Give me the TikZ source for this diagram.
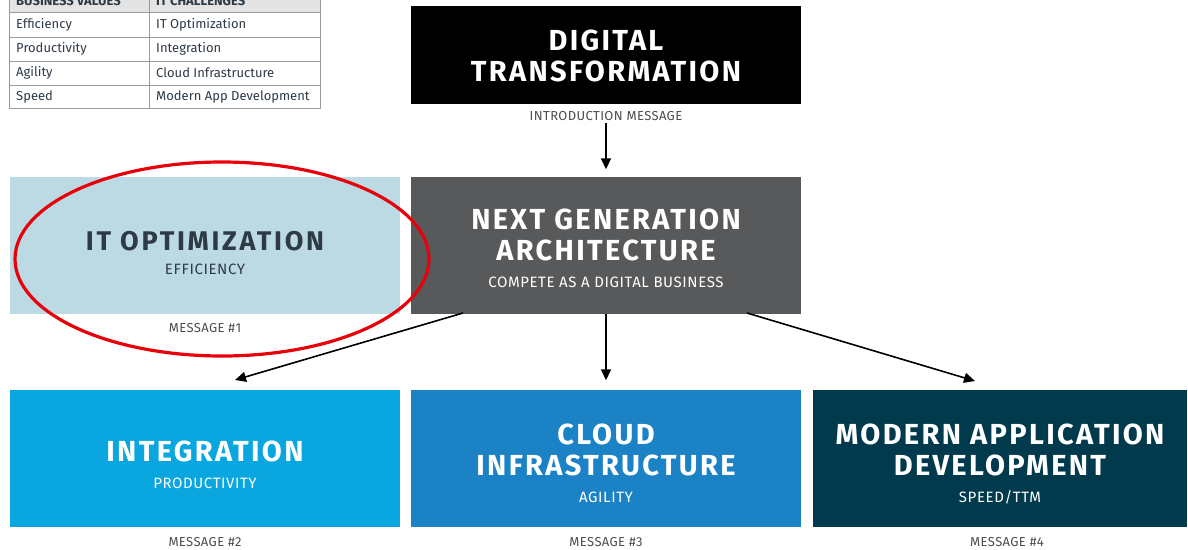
\documentclass[tikz,border=0pt]{standalone}
\usepackage{fontspec}
\setmainfont{Fira Sans}
\usepackage{tikz}
\usetikzlibrary{arrows.meta}

\definecolor{ngagray}{HTML}{58595B}
\definecolor{optblue}{HTML}{BCDAE4}
\definecolor{optink}{HTML}{2E3A46}
\definecolor{intblue}{HTML}{0AA6DF}
\definecolor{cldblue}{HTML}{1B82C6}
\definecolor{moddark}{HTML}{013A4D}
\definecolor{msgink}{HTML}{4D4D4D}
\definecolor{tabline}{HTML}{9A9A9A}
\definecolor{tabhead}{HTML}{E4E4E4}
\definecolor{ringred}{HTML}{E8000B}

\newcommand{\subt}[1]{{\mdseries\fontsize{15}{17}\selectfont\addfontfeatures{LetterSpace=4}#1}}
\newcommand{\lift}[1]{\rule{0pt}{#1}}

\begin{document}
\begin{tikzpicture}[x=1pt,y=-1pt,
    box/.style={minimum width=390pt, minimum height=137pt, inner sep=0pt, align=center,
        text=white, font=\bfseries\fontsize{29}{31}\selectfont\addfontfeatures{LetterSpace=8}},
    msg/.style={text=msgink, font=\fontsize{13}{15}\selectfont\addfontfeatures{LetterSpace=3}, inner sep=2pt},
    cell/.style={anchor=west, text=optink, font=\fontsize{13}{15}\selectfont, inner sep=0pt},
    arr/.style={-{Triangle[length=11pt,width=10pt]}, line width=1.6pt}]
    \clip (0,0) rectangle (1188,549);
    \fill[white] (0,0) rectangle (1188,549);

    % table of values
    \draw[tabline, fill=tabhead] (9,-15) rectangle (320,12);
    \draw[tabline, fill=white] (9,12) rectangle (320,108);
    \draw[tabline] (9,37) -- (320,37);
    \draw[tabline] (9,61) -- (320,61);
    \draw[tabline] (9,85) -- (320,85);
    \draw[tabline] (149,-15) -- (149,108);
    \node[cell, font=\bfseries\fontsize{13}{15}\selectfont] at(16,1)(h1){BUSINESS VALUES};
    \node[cell, font=\bfseries\fontsize{13}{15}\selectfont] at(156,1)(h2){IT CHALLENGES};
    \node[cell] at(16,25)(v1){Efficiency};
    \node[cell] at(156,25)(c1){IT Optimization};
    \node[cell] at(16,49)(v2){Productivity};
    \node[cell] at(156,49)(c2){Integration};
    \node[cell] at(16,73)(v3){Agility};
    \node[cell] at(156,73)(c3){Cloud Infrastructure};
    \node[cell] at(16,97)(v4){Speed};
    \node[cell] at(156,97)(c4){Modern App Development};

    % top row
    \node[box, fill=black, minimum height=98pt] at(606,55)(dt){\lift{22pt}DIGITAL\\TRANSFORMATION};
    \node[msg] at(606,116)(intro){INTRODUCTION MESSAGE};

    % middle row
    \node[box, fill=optblue, text=optink, font=\bfseries\fontsize{27}{29}\selectfont\addfontfeatures{LetterSpace=10}]
        at(205,245)(opt){\lift{35pt}IT OPTIMIZATION\\[-5pt]\subt{EFFICIENCY}};
    \node[msg] at(205,328)(m1){MESSAGE \#1};
    \node[box, fill=ngagray] at(606,245)(nga){\lift{28pt}NEXT GENERATION\\ARCHITECTURE\\[-4pt]\subt{COMPETE AS A DIGITAL BUSINESS}};

    % bottom row
    \node[box, fill=intblue] at(205,458)(integ){\lift{34pt}INTEGRATION\\[-4pt]\subt{PRODUCTIVITY}};
    \node[box, fill=cldblue] at(606,458)(cloud){\lift{32pt}CLOUD\\INFRASTRUCTURE\\[-4pt]\subt{AGILITY}};
    \node[box, fill=moddark, minimum width=374pt] at(1000,458)(modern){\lift{32pt}MODERN APPLICATION\\DEVELOPMENT\\[-4pt]\subt{SPEED/TTM}};
    \node[msg] at(205,542)(m2){MESSAGE \#2};
    \node[msg] at(606,542)(m3){MESSAGE \#3};
    \node[msg] at(1007,542)(m4){MESSAGE \#4};

    % arrows
    \coordinate (ls) at(463,313);
    \coordinate (le) at(235,380);
    \coordinate (rs) at(747,313);
    \coordinate (re) at(975,381);
    \draw[arr, shorten >=7pt] (intro) -- (nga);
    \draw[arr, shorten >=9pt] (nga) -- (cloud);
    \draw[arr] (ls) -- (le);
    \draw[arr] (rs) -- (re);

    % highlight
    \draw[ringred, line width=3.2pt] (222,259) ellipse [x radius=207pt, y radius=97pt];
\end{tikzpicture}
\end{document}
